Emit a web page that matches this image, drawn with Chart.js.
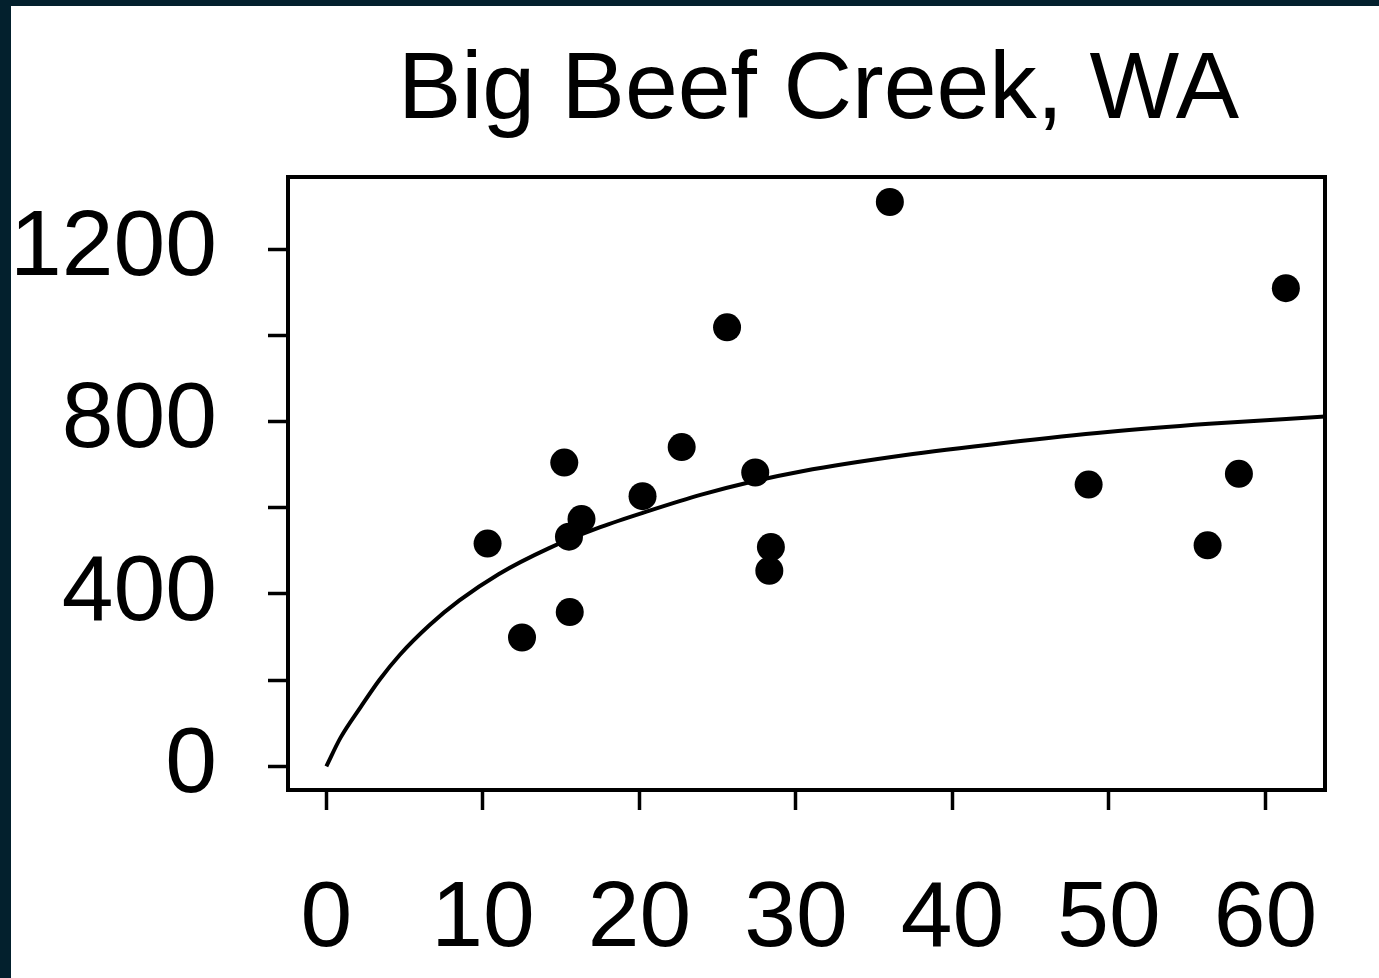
<!DOCTYPE html>
<html>
<head>
<meta charset="utf-8">
<script src="https://cdn.jsdelivr.net/npm/chart.js@4.4.0/dist/chart.umd.min.js"></script>
<style>
html,body{margin:0;padding:0;background:#03202d;width:1379px;height:978px;overflow:hidden}
#wrap{position:absolute;left:11px;top:6px;width:1368px;height:972px;background:#ffffff}
canvas{display:block}
</style>
</head>
<body>
<div id="wrap"><canvas id="c" width="1368" height="972"></canvas></div>
<script>
// ---- data ----
const titleText = 'Big Beef Creek, WA';

const pointX = [10.3, 12.5, 15.2, 15.55, 15.5, 16.3, 20.2, 22.7, 25.6, 27.4, 28.4, 28.3, 36.0, 48.7, 56.3, 58.3, 61.3];
const pointY = [517, 299, 705, 358, 533, 574, 627, 741, 1019, 682, 509, 454, 1310, 654, 513, 679, 1110];

const curveX = [0, 0.9, 2.2, 3.4, 4.7, 6.6, 8.5, 11.0, 14.2, 17.5, 20.7, 23.9, 27.1, 30.4, 36.9, 43.4, 49.9, 56.4, 63.8];
const curveY = [0, 66, 138, 201, 259, 328, 385, 446, 506, 555, 594, 630, 660, 685, 722, 751, 776, 795, 812];

const xTicks = [0, 10, 20, 30, 40, 50, 60];
const yTicks = [0, 200, 400, 600, 800, 1000, 1200];
const yLabels = [0, 400, 800, 1200];
const xRange = [-2.45, 63.8];
const yRange = [-55, 1368];

// ---- chart ----
const FONT = "'Liberation Sans', Arial, Helvetica, sans-serif";

const framePlugin = {
  id: 'frame',
  afterLayout(chart) {
    const t = chart.titleBlock;
    if (t) { t.left += 12; t.right += 12; }
  },
  afterDraw(chart) {
    const a = chart.chartArea, ctx = chart.ctx;
    ctx.save();
    ctx.strokeStyle = '#000';
    ctx.lineWidth = 4;
    ctx.strokeRect(a.left, a.top, a.right - a.left, a.bottom - a.top);
    ctx.restore();
  }
};

new Chart(document.getElementById('c'), {
  type: 'scatter',
  data: {
    datasets: [
      {
        label: 'observed',
        data: pointX.map((x, i) => ({x: x, y: pointY[i]})),
        pointRadius: 14,
        pointHoverRadius: 14,
        backgroundColor: '#000',
        borderWidth: 0
      },
      {
        label: 'fit',
        data: curveX.map((x, i) => ({x: x, y: curveY[i]})),
        showLine: true,
        pointRadius: 0,
        borderColor: '#000',
        borderWidth: 4,
        tension: 0.4,
        cubicInterpolationMode: 'monotone',
        fill: false
      }
    ]
  },
  options: {
    responsive: false,
    animation: false,
    devicePixelRatio: 1,
    layout: {padding: {left: 0, right: 54, top: 0, bottom: 0}},
    plugins: {
      legend: {display: false},
      tooltip: {enabled: false},
      title: {
        display: true,
        text: titleText,
        fullSize: false,
        color: '#000',
        font: {family: FONT, size: 95, weight: 'normal', lineHeight: 1.2},
        padding: {top: 29, bottom: 28}
      }
    },
    scales: {
      x: {
        type: 'linear',
        min: xRange[0],
        max: xRange[1],
        afterBuildTicks: s => { s.ticks = xTicks.map(v => ({value: v})); },
        afterFit: s => { s.height = 188; },
        grid: {display: true, drawOnChartArea: false, drawTicks: true, tickLength: 20, tickWidth: 3.5, tickColor: '#000'},
        border: {display: true, color: '#000', width: 4},
        ticks: {
          autoSkip: false, maxRotation: 0, minRotation: 0,
          color: '#000', padding: 55,
          font: {family: FONT, size: 93},
          callback: v => String(v)
        }
      },
      y: {
        type: 'linear',
        min: yRange[0],
        max: yRange[1],
        afterBuildTicks: s => { s.ticks = yTicks.map(v => ({value: v})); },
        afterFit: s => { s.width = 277; },
        grid: {display: true, drawOnChartArea: false, drawTicks: true, tickLength: 20, tickWidth: 3.5, tickColor: '#000'},
        border: {display: true, color: '#000', width: 4},
        ticks: {
          autoSkip: false,
          color: '#000', padding: 51,
          font: {family: FONT, size: 93},
          callback: v => yLabels.includes(v) ? String(v) : ''
        }
      }
    }
  },
  plugins: [framePlugin]
});
</script>
</body>
</html>
